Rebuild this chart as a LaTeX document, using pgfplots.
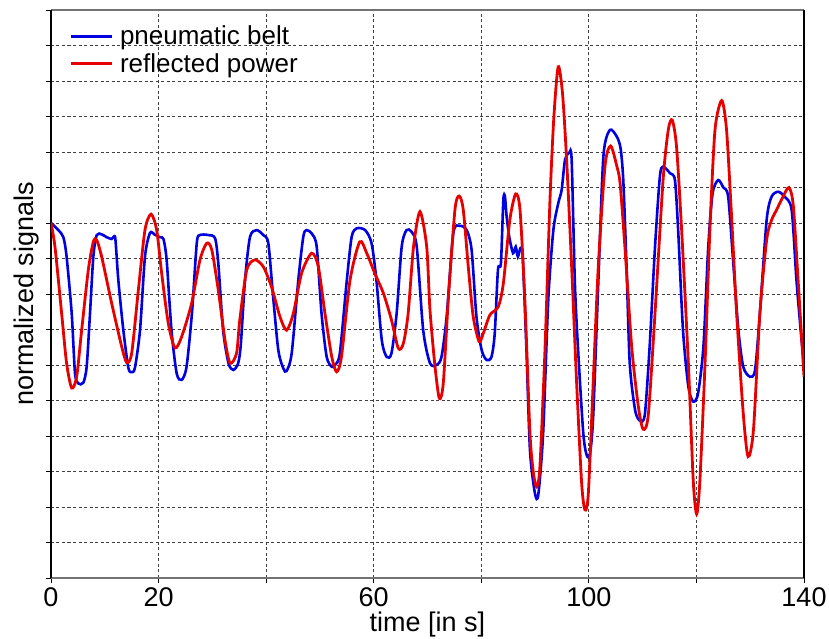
\documentclass[border=0pt]{standalone}
\usepackage{pgfplots}
\pgfplotsset{compat=1.18}
\usepackage{fontspec}
\setmainfont{Liberation Sans}
\definecolor{cblue}{RGB}{0,0,225}
\definecolor{cred}{RGB}{230,0,0}
\begin{document}
\begin{tikzpicture}
\begin{axis}[
  name=ax,
  width=753pt, height=568pt, scale only axis,
  xmin=0, xmax=140, ymin=0, ymax=16,
  xtick={0,20,40,60,80,100,120,140},
  xticklabels={0,20,,60,,100,,140},
  ytick={0,1,...,16},
  yticklabels={},
  tickpos=left, tick align=outside,
  major tick length=5pt,
  tick style={black, line width=0.8pt},
  grid=major,
  major grid style={black!75, line width=0.8pt, dash pattern=on 3pt off 2.5pt},
  separate axis lines,
  x axis line style={black!55, line width=1.4pt},
  y axis line style={black, line width=1.2pt},
  /pgf/number format/assume math mode=true,
  tick label style={font=\fontsize{27}{32}\selectfont},
  xticklabel style={yshift=-1pt},
  label style={font=\fontsize{27}{32}\selectfont},
  xlabel={time [in s]},
  xlabel style={at={(axis description cs:0.5,0)}, anchor=north, yshift=-34pt, inner sep=0pt},
  ylabel={normalized signals},
  ylabel style={at={(axis description cs:-0.015,0.5)}, anchor=south, inner sep=0pt},
  legend style={at={(axis description cs:0.021,0.979)}, anchor=north west, draw=none, fill=none,
    font=\fontsize{26}{30}\selectfont, row sep=3pt, column sep=5pt, inner sep=2pt},
  legend cell align=left,
  legend image code/.code={\draw[#1, line width=3pt] (0pt,0pt) -- (41pt,0pt);},
]
\addplot[cblue, line width=2.6pt, smooth, tension=0.45] coordinates {
(0,10.0) (1.36,9.8) (2.3,9.6) (2.9,9.05) (3.85,7.45) (4.46,5.77) (5.08,5.48) (6.0,5.5) (6.63,5.95) (7.25,7.45) (7.87,9.05) (8.5,9.66) (9.42,9.68) (10.35,9.6) (11.28,9.55) (11.77,9.63) (12.0,9.5) (12.52,8.39) (13.45,6.98) (14.38,5.92) (15.0,5.8) (15.6,5.92) (16.55,6.98) (17.47,9.05) (18.4,9.72) (19.3,9.67) (20.26,9.6) (20.9,9.55) (21.5,8.96) (22.4,6.98) (23.37,5.76) (24.3,5.58) (25.2,5.95) (26.2,7.45) (27.1,9.43) (27.7,9.66) (29.25,9.66) (30.5,9.57) (31.1,8.87) (32.0,6.98) (33.0,6.05) (33.9,5.86) (34.8,6.05) (35.3,6.6) (36.07,8.39) (37.0,9.61) (38.24,9.8) (39.47,9.66) (40.4,9.43) (41.3,7.92) (42.26,6.42) (43.2,5.9) (43.8,5.83) (44.75,6.33) (45.98,8.39) (46.9,9.61) (47.5,9.8) (48.5,9.7) (49.4,9.33) (50.3,7.45) (51.25,6.23) (52.2,5.95) (52.8,6.0) (53.7,6.33) (55.0,8.39) (55.9,9.61) (56.83,9.85) (58.4,9.8) (59.6,9.43) (60.5,8.39) (61.5,6.7) (62.4,6.23) (63.3,6.33) (64.26,7.45) (65.2,9.33) (66.1,9.8) (67.05,9.75) (68.0,9.33) (69.2,6.98) (70.46,6.05) (71.7,6.0) (72.6,6.23) (73.56,7.36) (74.8,9.71) (76.0,9.92) (77.28,9.8) (78.2,9.24) (79.1,7.36) (80.07,6.42) (81.0,6.14) (81.9,6.23) (82.5,6.89) (83.1,8.68) (83.65,8.87) (84.1,10.65) (84.4,10.74) (84.7,10.2) (85.2,9.61) (85.9,9.15) (86.4,9.33) (86.8,9.05) (87.3,9.3) (87.7,9.05) (88.4,6.42) (89.05,3.6) (89.98,2.38) (90.6,2.35) (91.5,4.08) (92.45,7.83) (93.4,9.8) (94.3,10.55) (94.94,10.93) (95.56,11.77) (96.36,11.98) (96.8,11.77) (97.4,8.3) (98.0,6.42) (98.96,4.08) (99.6,3.46) (100.2,3.49) (100.8,4.54) (101.75,8.3) (102.7,11.87) (103.9,12.62) (105.2,12.43) (105.9,12.1) (106.4,11.2) (107.0,8.8) (107.6,6.05) (108.6,4.73) (109.5,4.43) (110.4,4.6) (111.3,6.52) (112.3,9.33) (113.2,11.3) (113.8,11.59) (115.1,11.4) (116.0,11.21) (116.6,9.8) (117.5,6.98) (118.5,5.39) (119.4,4.97) (120.3,5.2) (121.3,6.52) (122.2,9.33) (123.0,10.83) (124.05,11.21) (125.0,11.0) (125.9,10.74) (126.85,8.87) (127.8,6.98) (128.7,5.95) (129.95,5.67) (130.9,5.86) (131.8,7.46) (133.05,10.08) (133.97,10.74) (135.2,10.88) (136.4,10.74) (137.7,10.37) (138.6,8.39) (139.55,6.7) (140,6.14)
};
\addlegendentry{pneumatic belt}
\addplot[cred, line width=2.8pt, smooth, tension=0.45] coordinates {
(0,10.0) (0.74,9.33) (1.98,7.45) (2.9,6.05) (3.85,5.35) (4.77,5.67) (5.7,6.98) (6.94,8.68) (7.87,9.47) (8.5,9.52) (9.42,9.05) (11.28,7.74) (13.14,6.52) (14.07,6.07) (15.0,6.33) (16.24,8.11) (17.47,9.8) (18.6,10.25) (19.65,9.8) (20.57,8.59) (21.8,7.18) (23.05,6.48) (24.3,6.8) (26.15,7.74) (27.7,8.96) (28.95,9.43) (29.9,9.24) (31.1,8.11) (32.35,6.7) (33.3,6.05) (34.5,6.33) (35.1,7.27) (36.4,8.68) (37.9,8.96) (39.47,8.77) (41.0,8.2) (42.57,7.36) (43.8,6.98) (45.05,7.45) (46.6,8.59) (48.47,9.15) (49.7,8.77) (50.94,7.45) (52.2,6.23) (53.1,5.81) (54.0,6.23) (55.6,8.39) (57.4,9.47) (58.7,9.15) (60.2,8.58) (61.8,8.02) (63.3,7.27) (64.57,6.47) (65.5,6.6) (66.4,7.45) (67.4,9.33) (68.6,10.32) (69.85,9.33) (70.46,7.55) (71.4,5.95) (72.2,5.06) (72.93,5.48) (73.86,7.83) (75.1,10.37) (75.9,10.76) (76.65,10.37) (77.58,8.77) (78.5,7.36) (79.6,6.66) (80.37,6.89) (81.6,7.41) (83.16,7.64) (84.1,8.3) (85.3,10.08) (86.4,10.82) (87.2,10.37) (88.1,7.83) (89.05,4.08) (89.7,2.95) (90.3,2.57) (90.9,3.14) (91.84,6.42) (92.77,10.65) (93.5,13.0) (94.3,14.4) (95.1,13.65) (95.87,11.77) (96.8,8.77) (97.73,5.48) (98.66,2.67) (99.27,1.92) (99.9,2.38) (100.8,5.48) (101.75,8.77) (103.0,11.6) (104.05,12.17) (105.2,11.6) (105.8,11.12) (106.7,9.33) (107.96,6.52) (109.2,4.83) (110.1,4.19) (111.05,4.6) (112.3,7.46) (113.8,11.21) (114.76,12.62) (115.5,12.9) (116.3,12.15) (117.25,9.8) (118.5,6.05) (119.4,2.76) (120.04,1.8) (120.65,2.76) (121.6,6.05) (122.5,9.8) (123.45,12.62) (124.7,13.45) (125.6,12.62) (126.5,10.27) (127.47,7.46) (128.7,4.64) (129.6,3.42) (130.6,4.17) (131.8,7.46) (133.05,9.52) (133.97,10.08) (134.9,10.37) (136.1,10.74) (137.2,11.0) (138.0,10.5) (138.9,8.39) (140,5.67)
};
\addlegendentry{reflected power}
\end{axis}
\pgfresetboundingbox
\path ([xshift=-51pt,yshift=10pt]ax.north west) ([xshift=25pt,yshift=-61pt]ax.south east);
\end{tikzpicture}
\end{document}
